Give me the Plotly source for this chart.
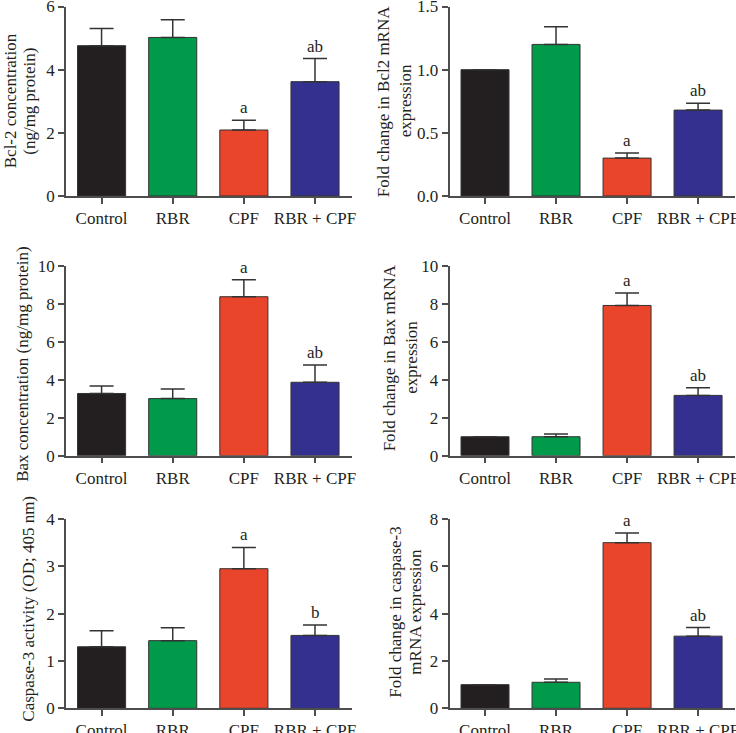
import plotly.graph_objects as go

categories = ["Control", "RBR", "CPF", "RBR + CPF"]
bar_colors = ["#231f20", "#009a4a", "#e8452a", "#34308f"]

bcl2_protein = [4.76, 5.02, 2.09, 3.62]
bcl2_protein_err = [0.54, 0.56, 0.31, 0.73]
bcl2_mrna = [1.00, 1.20, 0.30, 0.68]
bcl2_mrna_err = [0.0, 0.14, 0.04, 0.055]
bax_protein = [3.28, 3.01, 8.38, 3.87]
bax_protein_err = [0.40, 0.51, 0.89, 0.91]
bax_mrna = [1.00, 1.00, 7.92, 3.18]
bax_mrna_err = [0.0, 0.14, 0.66, 0.40]
casp3_activity = [1.30, 1.43, 2.95, 1.54]
casp3_activity_err = [0.34, 0.27, 0.45, 0.22]
casp3_mrna = [1.00, 1.10, 7.00, 3.05]
casp3_mrna_err = [0.0, 0.14, 0.41, 0.36]

sig_bcl2_protein = ["", "", "a", "ab"]
sig_bcl2_mrna = ["", "", "a", "ab"]
sig_bax_protein = ["", "", "a", "ab"]
sig_bax_mrna = ["", "", "a", "ab"]
sig_casp3_activity = ["", "", "a", "b"]
sig_casp3_mrna = ["", "", "a", "ab"]

title_bcl2_protein = ["Bcl-2 concentration", "(ng/mg protein)"]
title_bcl2_mrna = ["Fold change in Bcl2 mRNA", "expression"]
title_bax_protein = ["Bax concentration (ng/mg protein)"]
title_bax_mrna = ["Fold change in Bax mRNA", "expression"]
title_casp3_activity = ["Caspase-3 activity (OD; 405 nm)"]
title_casp3_mrna = ["Fold change in caspase-3", "mRNA expression"]

panels = [
    dict(vals=bcl2_protein, err=bcl2_protein_err, sig=sig_bcl2_protein,
         title=title_bcl2_protein, tx=[10, 29.5], tyoff=0,
         yrange=[0, 6], dtick=2, fmt="", col=0, row=0),
    dict(vals=bcl2_mrna, err=bcl2_mrna_err, sig=sig_bcl2_mrna,
         title=title_bcl2_mrna, tx=[383, 405], tyoff=0,
         yrange=[0, 1.5], dtick=0.5, fmt=".1f", col=1, row=0),
    dict(vals=bax_protein, err=bax_protein_err, sig=sig_bax_protein,
         title=title_bax_protein, tx=[23], tyoff=3,
         yrange=[0, 10], dtick=2, fmt="", col=0, row=1),
    dict(vals=bax_mrna, err=bax_mrna_err, sig=sig_bax_mrna,
         title=title_bax_mrna, tx=[389.5, 412], tyoff=-3,
         yrange=[0, 10], dtick=2, fmt="", col=1, row=1),
    dict(vals=casp3_activity, err=casp3_activity_err, sig=sig_casp3_activity,
         title=title_casp3_activity, tx=[29], tyoff=-5,
         yrange=[0, 4], dtick=1, fmt="", col=0, row=2),
    dict(vals=casp3_mrna, err=casp3_mrna_err, sig=sig_casp3_mrna,
         title=title_casp3_mrna, tx=[396, 416], tyoff=-2,
         yrange=[0, 8], dtick=2, fmt="", col=1, row=2),
]

W, H = 736, 733
col_px = [(66, 352), (449.5, 735)]
row_px = [(6.5, 196), (266, 455.7), (519, 708.3)]

FONT = "Liberation Serif"
FS = 17
TXT = "#231f20"
AXC = "#4d4d4d"

fig = go.Figure()
layout = dict(
    width=W, height=H, margin=dict(l=0, r=0, t=0, b=0, pad=0, autoexpand=False),
    paper_bgcolor="white", plot_bgcolor="white", showlegend=False,
    font=dict(family=FONT, size=FS, color=TXT),
    bargap=0.324,
)
annotations = []

for i, p in enumerate(panels):
    n = i + 1
    xa = "x" if n == 1 else f"x{n}"
    ya = "y" if n == 1 else f"y{n}"
    x0, x1 = col_px[p["col"]]
    yt, yb = row_px[p["row"]]
    fig.add_trace(go.Bar(
        x=categories, y=p["vals"], xaxis=xa, yaxis=ya,
        marker=dict(color=bar_colors, line=dict(color="#333333", width=1)),
        error_y=dict(type="data", symmetric=False, array=p["err"],
                     arrayminus=[0] * len(p["err"]),
                     color="#333333", thickness=1.5, width=12),
        hoverinfo="skip",
    ))
    layout["xaxis" if n == 1 else f"xaxis{n}"] = dict(
        domain=[x0 / W, x1 / W], anchor=ya, range=[-0.5, 3.52],
        showline=True, linecolor=AXC, linewidth=1.5,
        ticks="outside", ticklen=6, tickcolor=AXC, tickwidth=1.5,
        showgrid=False, zeroline=False, fixedrange=True, automargin=False,
        ticklabeloverflow="allow",
        tickfont=dict(family=FONT, size=FS, color=TXT),
    )
    layout["yaxis" if n == 1 else f"yaxis{n}"] = dict(
        domain=[1 - yb / H, 1 - yt / H], anchor=xa, range=p["yrange"],
        dtick=p["dtick"], tick0=0, tickformat=p["fmt"],
        showline=True, linecolor=AXC, linewidth=1.5,
        ticks="outside", ticklen=6, tickcolor=AXC, tickwidth=1.5,
        showgrid=False, zeroline=False, fixedrange=True, automargin=False,
        ticklabeloverflow="allow",
        tickfont=dict(family=FONT, size=FS, color=TXT),
    )
    ymid = (yt + yb) / 2 + p["tyoff"]
    for line, tx in zip(p["title"], p["tx"]):
        annotations.append(dict(
            x=tx / W, y=1 - ymid / H, xref="paper", yref="paper",
            text=line, showarrow=False, textangle=-90,
            xanchor="center", yanchor="middle",
            font=dict(family=FONT, size=FS, color=TXT),
        ))
    for c, v, e, s in zip(categories, p["vals"], p["err"], p["sig"]):
        if s:
            annotations.append(dict(
                x=c, y=v + e, xref=xa, yref=ya, text=s, showarrow=False,
                yanchor="bottom", yshift=1,
                font=dict(family=FONT, size=FS, color=TXT),
            ))

layout["annotations"] = annotations
fig.update_layout(**layout)
fig.write_html(
    "out.html",
    config={"responsive": False, "displayModeBar": False},
    post_script="document.body.style.margin='0';document.body.style.overflow='hidden';",
)
